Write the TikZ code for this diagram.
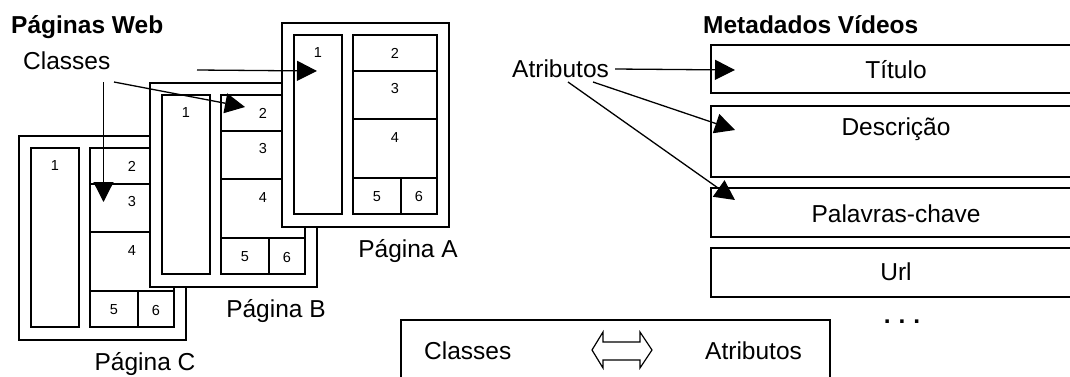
\documentclass[tikz,border=0pt]{standalone}
\usepackage{fontspec}
\setmainfont{Liberation Sans}
\usetikzlibrary{arrows.meta}
\tikzset{
  frame/.style={draw=black, line width=1.8pt, fill=white},
  cell/.style={draw=black, line width=1.8pt},
  rbox/.style={draw=black, line width=1.8pt, minimum width=370pt, inner sep=0pt},
  num/.style={font=\fontsize{14.5}{16}\selectfont, inner sep=0pt},
  lbl/.style={font=\fontsize{24.5}{28}\selectfont, inner sep=0pt},
  ttl/.style={font=\fontsize{24.5}{28}\selectfont\bfseries, inner sep=0pt},
  arr/.style={line width=1.3pt, -{Triangle[length=20pt,width=20pt]}},
}
\newcommand\webpage[4]{%
 \begin{scope}[shift={(#2,#3)}]
  \draw[frame] (0,0) rectangle (167,204);
  \draw[cell] (12,12) rectangle (60,191);
  \draw[cell] (71,12) rectangle (155,191);
  \draw[cell] (71,48) -- (155,48) (71,96) -- (155,96) (71,155) -- (155,155) (119,155) -- (119,191);
  \node[num] (#1-1) at (36,30) {1};
  \node[num] (#1-2) at (113,30) {2};
  \node[num] (#1-3) at (113,66) {3};
  \node[num] (#1-4) at (113,115) {4};
  \node[num] (#1-5) at (95,174) {5};
  \node[num] (#1-6) at (137,174) {6};
  \node[lbl, anchor=base] (#1-label) at (126,234) {#4};
 \end{scope}}
\begin{document}
\begin{tikzpicture}[x=1pt, y=-1pt]
\useasboundingbox (0,0) rectangle (1070,376);
\clip (0,0) rectangle (1070,376);
\fill[white] (0,0) rectangle (1070,376);

% web pages
\webpage{pc}{19}{136}{Página C}
\webpage{pb}{150}{83}{Página B}
\webpage{pa}{282}{23}{Página A}

\node[ttl, anchor=base west] (pw) at (11,33) {Páginas Web};
\node[lbl, anchor=base west] (classes) at (23,69) {Classes};

% classes arrows
\coordinate (c1s) at (197,70);
\coordinate (c1e) at (317,71);
\coordinate (c2s) at (114,82);
\coordinate (c2e) at (245,107);
\coordinate (c3s) at (103.5,82);
\coordinate (c3e) at (103.5,202);
\draw[arr] (c1s) -- (c1e);
\draw[arr] (c2s) -- (c2e);
\draw[arr] (c3s) -- (c3e);

% metadata
\node[ttl, anchor=base west] (mv) at (703,33) {Metadados Vídeos};
\node[rbox, minimum height=48pt] (titulo) at (896,69) {};
\node[rbox, minimum height=71pt] (descricao) at (896,141.5) {};
\node[rbox, minimum height=49pt] (palavras) at (896,212.5) {};
\node[rbox, minimum height=49pt] (url) at (896,272.5) {};
\node[lbl, anchor=base] (titulo-t) at (896,78) {Título};
\node[lbl, anchor=base] (descricao-t) at (896,135) {Descrição};
\node[lbl, anchor=base] (palavras-t) at (896,222) {Palavras-chave};
\node[lbl, anchor=base] (url-t) at (896,280) {Url};
\node[ttl, anchor=base] (dots) at (902,323) {.\hspace{8pt}.\hspace{8pt}.};

\node[lbl, anchor=base west] (atr) at (512,77) {Atributos};
\coordinate (a1s) at (615,69);
\coordinate (a1e) at (735,70);
\coordinate (a2s) at (593,82);
\coordinate (a2e) at (735,130);
\coordinate (a3s) at (568,82);
\coordinate (a3e) at (735,200);
\draw[arr] (a1s) -- (a1e);
\draw[arr] (a2s) -- (a2e);
\draw[arr] (a3s) -- (a3e);

% legend
\draw[cell] (401,320) rectangle (830,400);
\node[lbl, anchor=base west] (lc) at (424,359) {Classes};
\node[lbl, anchor=base west] (la) at (705,359) {Atributos};
\draw[line width=1.2pt, line join=miter] (592,350) -- (603,332) -- (603,342) -- (640,342) -- (640,332) -- (652,350) -- (640,368) -- (640,360) -- (603,360) -- (603,368) -- cycle;
\end{tikzpicture}
\end{document}
